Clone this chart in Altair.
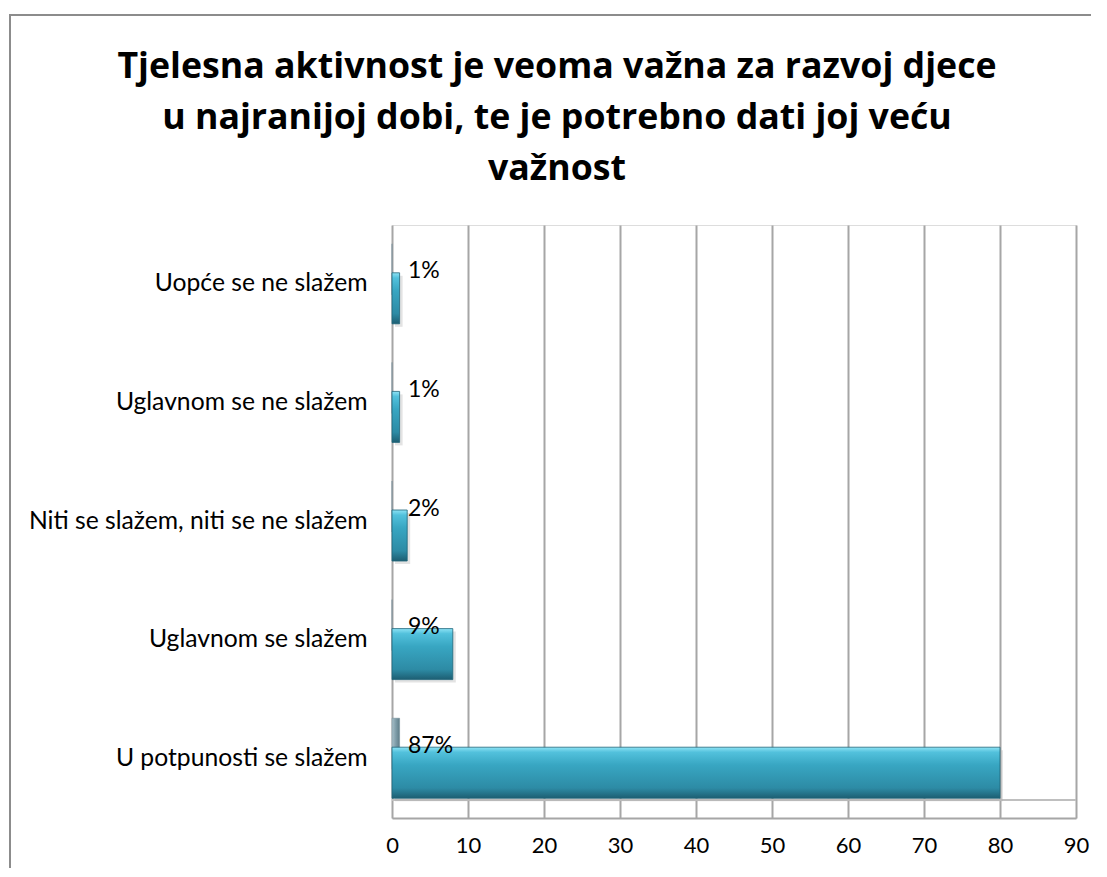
import altair as alt
import pandas as pd

categories = [
    "Uopće se ne slažem",
    "Uglavnom se ne slažem",
    "Niti se slažem, niti se ne slažem",
    "Uglavnom se slažem",
    "U potpunosti se slažem",
]
counts = [1, 1, 2, 8, 80]
labels = ["1%", "1%", "2%", "9%", "87%"]
grey_series = [0, 0, 0, 0, 1]
x_ticks = [0, 10, 20, 30, 40, 50, 60, 70, 80, 90]
title_lines = [
    "Tjelesna aktivnost je veoma važna za razvoj djece",
    "u najranijoj dobi, te je potrebno dati joj veću",
    "važnost",
]

df = pd.DataFrame({"cat": categories, "value": counts, "label": labels, "grey": grey_series})

FONT = "Lato"

y_enc = alt.Y(
    "cat:N",
    sort=categories,
    title=None,
    scale=alt.Scale(paddingInner=0.0, paddingOuter=0.0),
    axis=alt.Axis(
        domain=False,
        ticks=False,
        grid=False,
        labelPadding=25,
        labelFont=FONT,
        labelFontSize=24.7,
        labelColor="#000000",
        labelLimit=400,
    ),
)
x_scale = alt.Scale(domain=[0, 90], nice=False, zero=True)
x_enc = alt.X(
    "value:Q",
    scale=x_scale,
    title=None,
    axis=alt.Axis(
        values=x_ticks,
        grid=True,
        gridColor="#A6A6A6",
        gridWidth=2,
        domain=True,
        domainColor="#A6A6A6",
        domainWidth=2,
        ticks=False,
        labelPadding=17,
        labelFont=FONT,
        labelFontSize=22,
        labelColor="#000000",
        labelFlush=False,
    ),
)

blue_gradient = alt.LinearGradient(
    gradient="linear",
    x1=0, y1=0, x2=0, y2=1,
    stops=[
        alt.GradientStop(offset=0.0, color="#8EE3F5"),
        alt.GradientStop(offset=0.1, color="#52C1DC"),
        alt.GradientStop(offset=0.35, color="#38A6C2"),
        alt.GradientStop(offset=0.8, color="#2D8BA5"),
        alt.GradientStop(offset=1.0, color="#1D5E72"),
    ],
)
grey_gradient = alt.LinearGradient(
    gradient="linear",
    x1=0, y1=0, x2=1, y2=0,
    stops=[
        alt.GradientStop(offset=0.0, color="#A9C0C9"),
        alt.GradientStop(offset=0.5, color="#7F9DA9"),
        alt.GradientStop(offset=1.0, color="#5F7D88"),
    ],
)

base = alt.Chart(df)

frame = base.mark_rect(fill=None, stroke="#8C8C8C", strokeWidth=2).encode(
    x=alt.value(-382), x2=alt.value(800), y=alt.value(-210), y2=alt.value(700)
)

title = alt.Chart(pd.DataFrame({"t": [0]})).mark_text(
    text=title_lines,
    font="Open Sans",
    fontSize=35.7,
    fontWeight="bold",
    color="#000000",
    align="center",
    baseline="alphabetic",
    lineHeight=51,
).encode(x=alt.value(165), y=alt.value(-147))

floor_back = base.mark_rule(color="#BFBFBF", strokeWidth=1.5).encode(
    x=alt.value(0), x2=alt.value(684), y=alt.value(575)
)

grey_bars = base.mark_bar(size=51, yOffset=-15, fill=grey_gradient, stroke="#6E8A95", strokeWidth=0.5).encode(
    y=y_enc,
    x=alt.X("grey:Q", scale=x_scale),
)

shadow = base.mark_bar(size=51, yOffset=17, xOffset=3, color="#B0B0B0", opacity=0.35).encode(
    y=y_enc,
    x=alt.X("value:Q", scale=x_scale),
)

blue_bars = base.mark_bar(size=51, yOffset=14, fill=blue_gradient, stroke="#1F6578", strokeWidth=0.8).encode(
    y=y_enc,
    x=x_enc,
)

text = base.mark_text(
    align="left", baseline="middle", dx=16, yOffset=-13, font=FONT, fontSize=23, color="#000000"
).encode(
    y=y_enc,
    x=alt.datum(0, scale=x_scale),
    text="label:N",
)

chart = (
    alt.layer(frame, title, floor_back, shadow, grey_bars, blue_bars, text)
    .properties(
        width=684,
        height=593,
        autosize=alt.AutoSizeParams(type="none"),
        padding={"left": 384, "top": 217, "right": 15, "bottom": 50},
    )
    .configure_view(stroke=None)
    .configure(background="#FFFFFF")
)

chart.save("out.html", embed_options={"renderer": "svg", "actions": False})
